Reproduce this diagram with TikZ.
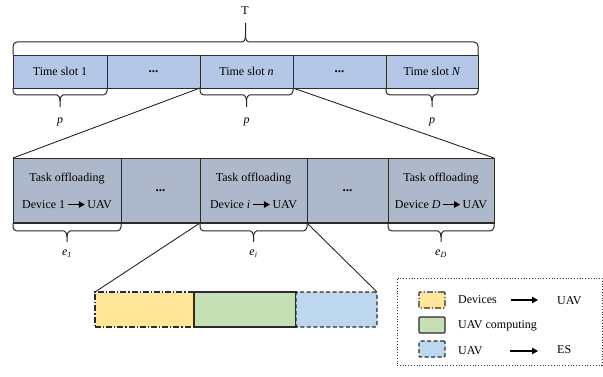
\documentclass[tikz,border=0pt]{standalone}
\usepackage{fontspec}
\setmainfont{Liberation Serif}
\usetikzlibrary{arrows.meta}
\definecolor{topc}{HTML}{B4C7E7}
\definecolor{midc}{HTML}{ADB9CA}
\definecolor{yelc}{HTML}{FFE699}
\definecolor{grnc}{HTML}{C5E0B4}
\definecolor{bluc}{HTML}{BDD7EE}
\definecolor{edgec}{HTML}{2B2B2B}
\newcommand\rarr{\tikz[baseline=-3.6pt]\draw[line width=1.2pt,-{Triangle[length=6pt,width=6.5pt]}] (0pt,0pt)--(17pt,0pt);}
\newcommand\hdots{\textbf{\fontsize{13}{14}\selectfont ...}}
% brace: x1 x2 y0 y1 y2 dir
\newcommand\mybrace[6]{%
  \draw[brc] (#1,#3) [rounded corners=4pt] -- (#1,#4) -- ({(#1+#2)/2-7},#4) [sharp corners]
    .. controls ({(#1+#2)/2-2},#4) and ({(#1+#2)/2},{#4+2*#6}) .. ({(#1+#2)/2},{#4+6*#6}) -- ({(#1+#2)/2},#5);
  \draw[brc] (#2,#3) [rounded corners=4pt] -- (#2,#4) -- ({(#1+#2)/2+7},#4) [sharp corners]
    .. controls ({(#1+#2)/2+2},#4) and ({(#1+#2)/2},{#4+2*#6}) .. ({(#1+#2)/2},{#4+6*#6});
}
\begin{document}
\begin{tikzpicture}[x=1pt,y=-1pt,
  font=\fontsize{12}{14}\selectfont,
  seg/.style={draw=edgec, line width=0.9pt, inner sep=0pt, outer sep=0pt, align=center},
  topseg/.style={seg, fill=topc, minimum height=33pt},
  midseg/.style={seg, fill=midc, minimum height=65pt},
  botseg/.style={seg, line width=1.1pt, minimum height=35pt},
  brc/.style={draw=black!85, line width=1pt},
  conn/.style={draw=black!85, line width=0.9pt},
  lbl/.style={inner sep=1pt},
  arr/.style={line width=1.2pt,-{Triangle[length=6pt,width=6.5pt]}},
  dd/.style={dash pattern=on 6pt off 2pt on 1.2pt off 2pt},
  ds/.style={dash pattern=on 4pt off 2.5pt},
  sw/.style={draw=edgec, line width=1.1pt, minimum width=26pt, minimum height=16pt, inner sep=0pt, rounded corners=1pt}
]
\useasboundingbox (0,0) rectangle (603,377);

% top bar
\node[topseg, minimum width=94pt] (t1) at (60,71.5) {Time slot 1};
\node[topseg, minimum width=93pt] (t2) at (153.5,71.5) {\hdots};
\node[topseg, minimum width=93pt] (t3) at (246.5,71.5) {Time slot \textit{n}};
\node[topseg, minimum width=93pt] (t4) at (339.5,71.5) {\hdots};
\node[topseg, minimum width=92pt] (t5) at (432,71.5) {Time slot \textit{N}};

% top brace and T
\mybrace{13}{478}{55}{42}{23}{-1}
\node[lbl] (T) at (245,11) {T};

% braces under top bar
\mybrace{13}{107}{88}{95}{107}{1}
\mybrace{200}{293}{88}{95}{107}{1}
\mybrace{386}{478}{88}{95}{107}{1}
\node[lbl] (p1) at (60,122) {\textit{p}};
\node[lbl] (p2) at (246.5,122) {\textit{p}};
\node[lbl] (p3) at (432,122) {\textit{p}};

% middle bar
\node[midseg, minimum width=108pt] (m1) at (67,190.5) {Task offloading\\[13pt]Device 1\,\rarr\,UAV};
\node[midseg, minimum width=79pt] (m2) at (160.5,190.5) {\hdots};
\node[midseg, minimum width=107pt] (m3) at (253.5,190.5) {Task offloading\\[13pt]Device \textit{i}\,\rarr\,UAV};
\node[midseg, minimum width=81pt] (m4) at (347.5,190.5) {\hdots};
\node[midseg, minimum width=106pt] (m5) at (441,190.5) {Task offloading\\[13pt]Device \textit{D}\,\rarr\,UAV};
\draw[edgec, line width=1.6pt] (m1.south west) -- (m5.south east);

% connectors top -> middle
\draw[conn] (t3.south west) -- (m1.north west);
\draw[conn] (t3.south east) -- (m5.north east);

% braces under middle bar
\mybrace{13}{121}{223}{231}{242}{1}
\mybrace{200}{307}{223}{231}{242}{1}
\mybrace{388}{494}{223}{231}{242}{1}
\node[lbl] (e1) at (67,254) {\textit{e}\textsubscript{\textit{1}}};
\node[lbl] (ei) at (253.5,254) {\textit{e}\textsubscript{\textit{i}}};
\node[lbl] (eD) at (441,254) {\textit{e}\textsubscript{\textit{D}}};

% bottom bar
\node[botseg, fill=yelc, dd, minimum width=99pt] (b1) at (144.5,309.5) {};
\node[botseg, fill=grnc, minimum width=102pt] (b2) at (245,309.5) {};
\node[botseg, fill=bluc, ds, minimum width=81pt, rounded corners=1.5pt] (b3) at (336.5,309.5) {};

% connectors middle -> bottom
\draw[conn] (m3.south west) -- (b1.north west);
\draw[conn] (m3.south east) -- (b3.north east);

% legend
\node[draw=black!80, dotted, line width=0.8pt, minimum width=205pt, minimum height=87pt, inner sep=0pt] (legend) at (499.5,321.5) {};
\node[sw, fill=yelc, dd] (s1) at (432,300) {};
\node[sw, fill=grnc] (s2) at (432,325) {};
\node[sw, fill=bluc, ds] (s3) at (432,349) {};
\node[anchor=west, inner sep=0pt] (l1) at (458,300) {Devices};
\node[anchor=west, inner sep=0pt] (l1b) at (557,301) {UAV};
\node[anchor=west, inner sep=0pt] (l2) at (458,326) {UAV computing};
\node[anchor=west, inner sep=0pt] (l3) at (458,351) {UAV};
\node[anchor=west, inner sep=0pt] (l3b) at (557,350) {ES};
\coordinate (a1s) at (511,300);
\coordinate (a1e) at (538,300);
\coordinate (a3s) at (510,351);
\coordinate (a3e) at (538,351);
\draw[arr] (a1s) -- (a1e);
\draw[arr] (a3s) -- (a3e);
\end{tikzpicture}
\end{document}
